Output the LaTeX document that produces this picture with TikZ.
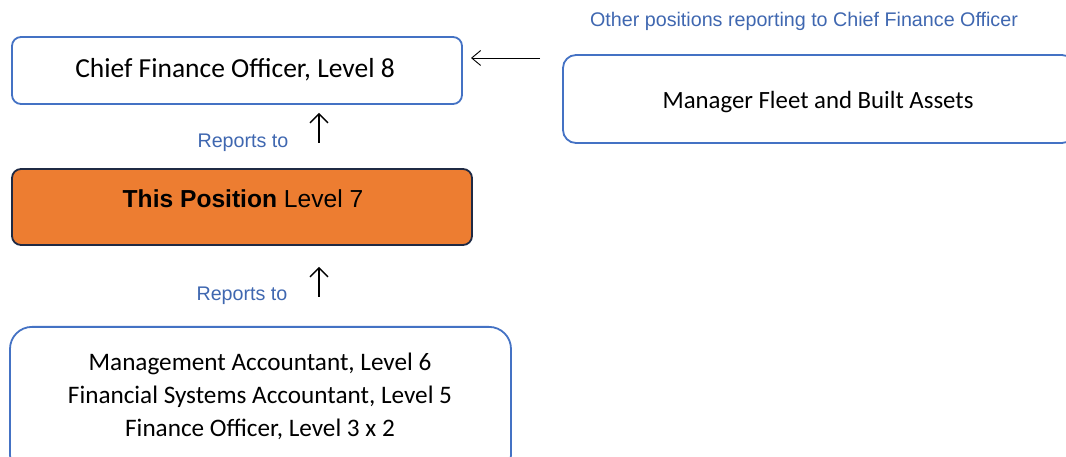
\documentclass[tikz,border=0pt]{standalone}
\usepackage{fontspec}
\setmainfont{Carlito}
\newfontfamily\arialf{Liberation Sans}
\usetikzlibrary{arrows.meta}
\definecolor{boxblue}{HTML}{4472C4}
\definecolor{txtblue}{HTML}{3F67B0}
\definecolor{orangefill}{HTML}{ED7D31}
\definecolor{navy}{HTML}{1F2A44}
\begin{document}
\begin{tikzpicture}[x=1pt,y=1pt,
  posbox/.style={draw=boxblue, line width=1.8pt, fill=white, inner sep=0pt},
  bodytext/.style={align=center, inner sep=0pt},
  bluelabel/.style={font=\arialf\fontsize{19.7}{23}\selectfont, text=txtblue, inner sep=0pt},
  uparrow/.style={line width=1.6pt, -{Straight Barb[length=9pt,width=18pt,line width=1.4pt]}},
  leftarrow/.style={line width=0.9pt, -{Straight Barb[length=9pt,width=15pt,line width=0.9pt]}}
]
\useasboundingbox (0,0) rectangle (1066,457);
\clip (0,0) rectangle (1066,457);

% Chief Finance Officer
\node[posbox, rounded corners=9pt, minimum width=450, minimum height=67] (cfo) at (237,386.5) {};
\node[bodytext, font=\fontsize{27.5}{33}\selectfont] (cfotext) at (235,387) {Chief Finance Officer, Level 8};

% Manager Fleet and Built Assets
\node[posbox, rounded corners=13pt, minimum width=512, minimum height=88] (mgr) at (819,358) {};
\node[bodytext, font=\fontsize{24.8}{33}\selectfont] (mgrtext) at (818,355) {Manager Fleet and Built Assets};

% This position
\node[draw=navy, line width=1.8pt, fill=orangefill, rounded corners=9pt, minimum width=460, minimum height=76, inner sep=0pt] (pos) at (242,250) {};
\node[font=\arialf\fontsize{24.6}{28}\selectfont, inner sep=0pt] (postext) at (243,258) {\textbf{This Position} Level 7};

% Subordinates
\node[posbox, rounded corners=22pt, minimum width=501, minimum height=150, anchor=north] (subs) at (260.5,131) {};
\node[bodytext, font=\fontsize{25.2}{33}\selectfont] (substext) at (260,61) {Management Accountant, Level 6\\Financial Systems Accountant, Level 5\\Finance Officer, Level 3 x 2};

% labels
\node[bluelabel] (other) at (804,436) {Other positions reporting to Chief Finance Officer};
\node[bluelabel] (rep1) at (243,314) {Reports to};
\node[bluelabel] (rep2) at (242,161) {Reports to};

% arrows
\coordinate (hstart) at (540,399);
\coordinate (hend) at (471,399);
\draw[leftarrow] (hstart) -- (hend);

\coordinate (u1s) at (319,314);
\coordinate (u1e) at (319,344);
\draw[uparrow] (u1s) -- (u1e);

\coordinate (u2s) at (319,160);
\coordinate (u2e) at (319,190);
\draw[uparrow] (u2s) -- (u2e);
\end{tikzpicture}
\end{document}
